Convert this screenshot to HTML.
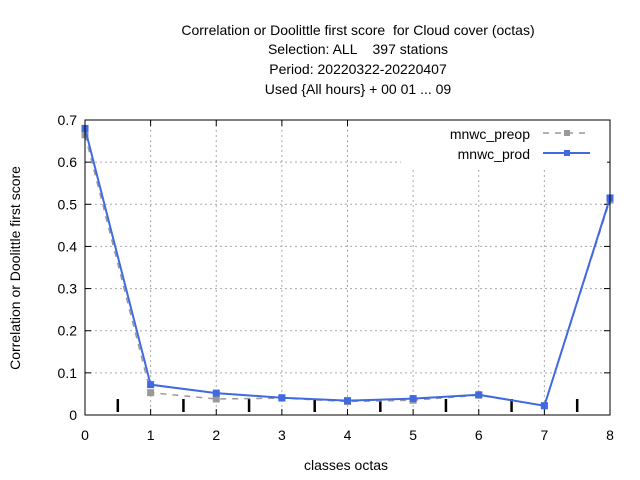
<!DOCTYPE html>
<html><head><meta charset="utf-8"><style>body{margin:0;background:#fff}svg{display:block;font-family:"Liberation Sans",sans-serif}text{white-space:pre}</style></head>
<body>
<svg id="c" width="640" height="480" xmlns="http://www.w3.org/2000/svg">
<rect width="640" height="480" fill="#fff"/>
<g font-size="14" text-anchor="middle" fill="#000">
<text x="358" y="35">Correlation or Doolittle first score  for Cloud cover (octas)</text>
<text x="358" y="54">Selection: ALL    397 stations</text>
<text x="358" y="74">Period: 20220322-20220407</text>
<text x="358" y="94">Used {All hours} + 00 01 ... 09</text>
</g>
<g id="grid"></g>
<g id="ticks"></g>
<g id="legend">
<rect x="401" y="119" width="206" height="48" fill="#fff"/>
<text x="530" y="139" font-size="14" text-anchor="end">mnwc_preop</text>
<line x1="543" y1="133" x2="590" y2="133" stroke="#999" stroke-width="1.5" stroke-dasharray="6,6"/>
<rect x="564" y="130" width="6" height="6" fill="#999"/>
<text x="530" y="159" font-size="14" text-anchor="end">mnwc_prod</text>
<line x1="543" y1="153" x2="590" y2="153" stroke="#4169e1" stroke-width="2"/>
<rect x="564" y="150" width="6" height="6" fill="#4169e1"/>
</g>
<g id="series"></g>
<rect x="85" y="120" width="525" height="295" fill="none" stroke="#000" stroke-width="1"/>
<text x="346" y="470" font-size="14" text-anchor="middle">classes octas</text>
<text transform="translate(20,268) rotate(-90)" font-size="14" text-anchor="middle">Correlation or Doolittle first score</text>
</svg>
<script>
const categories=[0,1,2,3,4,5,6,7,8];
const preop=[0.665,0.053,0.038,0.040,0.032,0.035,0.047,0.022,0.510];
const prod=[0.680,0.072,0.052,0.041,0.034,0.039,0.048,0.022,0.515];
const yTicks=[0,0.1,0.2,0.3,0.4,0.5,0.6,0.7];
const xTicks=[0,1,2,3,4,5,6,7,8];
const halfMarks=[0.5,1.5,2.5,3.5,4.5,5.5,6.5,7.5];
const NS="http://www.w3.org/2000/svg";
const X=v=>85+v*525/8, Y=v=>415-v*295/0.7;
function mk(p,t,a){const e=document.createElementNS(NS,t);for(const k in a)e.setAttribute(k,a[k]);p.appendChild(e);return e;}
const g=document.getElementById('grid'),tk=document.getElementById('ticks'),s=document.getElementById('series');
yTicks.forEach(v=>{
 if(v>0&&v<0.7){const l=mk(g,'line',{x1:85,x2:610,y1:Y(v),y2:Y(v),stroke:'#aaa','stroke-dasharray':'2,3'});
 
 }
 mk(tk,'line',{x1:85,x2:91,y1:Y(v),y2:Y(v),stroke:'#000'});mk(tk,'line',{x1:604,x2:610,y1:Y(v),y2:Y(v),stroke:'#000'});
 const t=mk(tk,'text',{x:77,y:Y(v)+5,'font-size':14,'text-anchor':'end'});t.textContent=v===0?'0':v.toFixed(1);
 
 
});
xTicks.forEach(v=>{
 if(v>0&&v<8){const l=mk(g,'line',{x1:X(v),x2:X(v),y1:120,y2:415,stroke:'#aaa','stroke-dasharray':'2,3'});
 
 }
 mk(tk,'line',{x1:X(v),x2:X(v),y1:415,y2:409,stroke:'#000'});mk(tk,'line',{x1:X(v),x2:X(v),y1:120,y2:126,stroke:'#000'});
 const t=mk(tk,'text',{x:X(v),y:440,'font-size':14,'text-anchor':'middle'});t.textContent=v;
 
 
});
halfMarks.forEach(v=>{const l=mk(tk,'line',{x1:X(v),x2:X(v),y1:399,y2:412,stroke:'#000','stroke-width':2.5});
 
 });
function draw(d,col,dash,w,name){
 const p=mk(s,'polyline',{points:d.map((v,i)=>X(categories[i])+','+Y(v)).join(' '),fill:'none',stroke:col,'stroke-width':w});
 if(dash)p.setAttribute('stroke-dasharray',dash);
 
 
 d.forEach((v,i)=>{const r=mk(s,'rect',{x:X(categories[i])-3.5,y:Y(v)-3.5,width:7,height:7,fill:col});
 
 });
}
draw(preop,'#999','6,6',1.5,'preop');
draw(prod,'#4169e1',null,2,'prod');
</script>
</body></html>
